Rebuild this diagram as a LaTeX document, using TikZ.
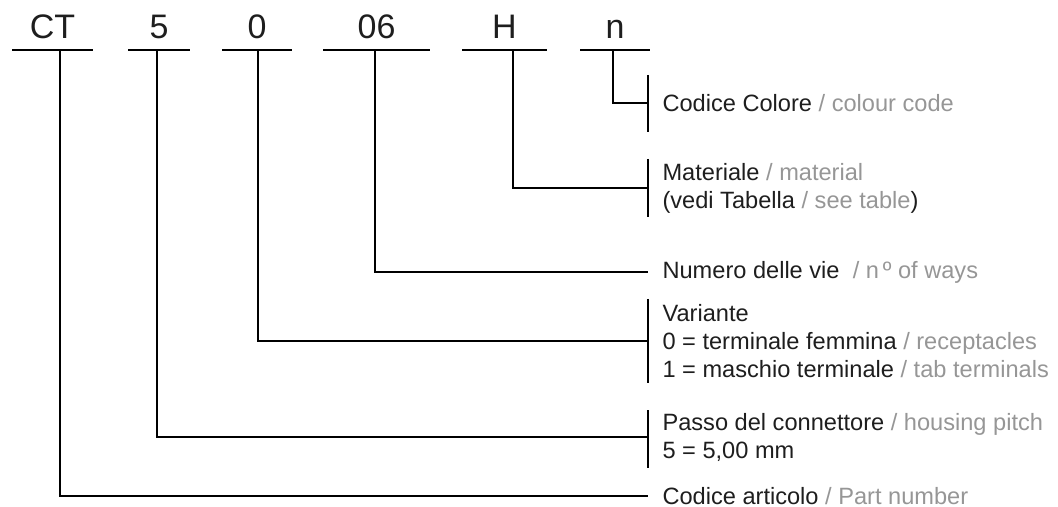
\documentclass[tikz,border=0pt]{standalone}
\usepackage{fontspec}
\setmainfont{Liberation Sans}
\usetikzlibrary{calc}
\definecolor{txtblack}{RGB}{30,30,30}
\definecolor{txtgrey}{RGB}{150,150,150}
\newcommand{\engl}[1]{\textcolor{txtgrey}{#1}}

\begin{document}
\begin{tikzpicture}[x=0.5pt, y=-0.5pt, line width=0.55pt,
  code/.style={anchor=base, inner sep=0pt, text=txtblack, font=\fontsize{17}{20}\selectfont},
  desc/.style={anchor=west, align=left, inner xsep=7pt, inner ysep=0pt, text=txtblack, font=\fontsize{11.8}{14}\selectfont},
  bar/.style={line width=0.8pt}]
  \useasboundingbox (0,0) rectangle (1058,507);

  % Code fields with underlines
  \foreach \nm/\txt/\l/\r/\t in {ct/CT/12/93/60, pitch/5/128/190/157, var/0/222/292/258,
                                 ways/06/323/430/375, mat/H/462/547/513, col/n/580/650/613}{
    \node[code] (\nm) at ({(\l+\r)/2},39) {\txt};
    \draw (\l,50) -- (\r,50);
    \coordinate (\nm-t) at (\t,50);
  }

  % Descriptions
  \node[desc] (col-d) at (648,103) {Codice Colore \engl{/ colour code}};
  \node[desc] (mat-d) at (648,188) {Materiale \engl{/ material}\\(vedi Tabella \engl{/ see table})};
  \node[desc] (ways-d) at (648,272) {Numero delle vie \ \engl{/ n\,º of ways}};
  \node[desc] (var-d) at (648,341) {Variante\\0 = terminale femmina \engl{/ receptacles}\\1 = maschio terminale \engl{/ tab terminals}};
  \node[desc] (pitch-d) at (648,437) {Passo del connettore \engl{/ housing pitch}\\5 = 5,00 mm};
  \node[desc] (ct-d) at (648,496) {Codice articolo \engl{/ Part number}};

  % Leader lines
  \foreach \nm in {ct, pitch, var, ways, mat, col}
    \draw (\nm-t) |- (\nm-d.west);

  % Brackets
  \foreach \nm/\up/\dn in {col/28/29, mat/29/29, var/42/42, pitch/27/31}
    \draw[bar] ($(\nm-d.west)+(0,-\up)$) -- ($(\nm-d.west)+(0,\dn)$);
\end{tikzpicture}
\end{document}
